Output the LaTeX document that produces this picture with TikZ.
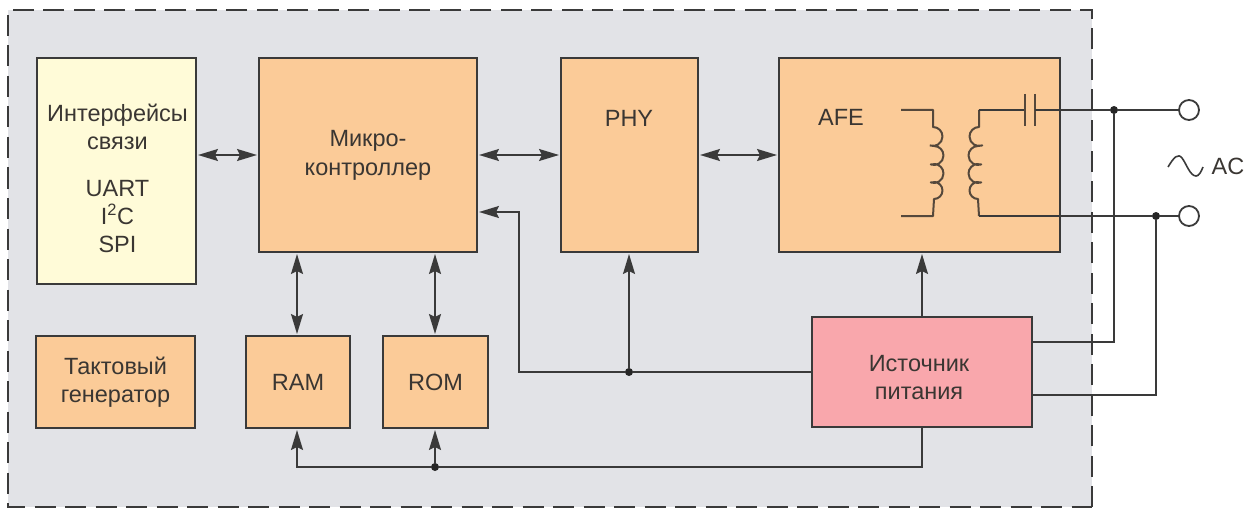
\documentclass[tikz,border=0pt]{standalone}
\usepackage{fontspec}
\setmainfont{Liberation Sans}
\usetikzlibrary{arrows.meta,calc}
\definecolor{bgc}{HTML}{E2E3E7}
\definecolor{org}{HTML}{FBCB98}
\definecolor{yel}{HTML}{FFFBD8}
\definecolor{pnk}{HTML}{F9A7AC}
\definecolor{ln}{HTML}{3A3A3A}
\definecolor{txt}{HTML}{3A3632}
\tikzset{
  x=1pt,y=-1pt,
  blockbox/.style={draw=ln,line width=2.2pt,inner sep=0pt,outer sep=0pt,anchor=north west,text=txt,font=\fontsize{23.5}{28}\selectfont,align=center},
  lbl/.style={text=txt,font=\fontsize{23.5}{28}\selectfont,align=center,inner sep=0pt},
  wire/.style={draw=ln,line width=1.8pt},
  wiretip/.style={wire,-{Stealth[length=20pt,width=12pt,inset=3pt]},shorten >=2pt},
  bothtip/.style={wire,{Stealth[length=20pt,width=12pt,inset=3pt]}-{Stealth[length=20pt,width=12pt,inset=3pt]},shorten >=2pt,shorten <=2pt},
  junction/.style={circle,fill=black!85,inner sep=0pt,minimum size=8pt},
  terminal/.style={circle,draw=ln,line width=1.8pt,fill=white,inner sep=0pt,minimum size=20pt,outer sep=0pt},
  coilline/.style={draw=ln!80!brown,line width=2pt,line join=round}
}
\begin{document}
\begin{tikzpicture}
\useasboundingbox (0,0) rectangle (1258,508);
% enclosure
\fill[bgc] (8,10) rectangle (1092,507);
\draw[ln,line width=2.2pt,dash pattern=on 21pt off 9.5pt] (1092,507) -- (1092,10) -- (8,10) -- (8,507) -- cycle;
% blocks
\node[blockbox,fill=yel,minimum width=159pt,minimum height=226pt] (iface) at (37,58) {};
\node[blockbox,fill=org,minimum width=218pt,minimum height=194pt] (mcu) at (259,58) {Микро-\\[1pt]контроллер};
\node[blockbox,fill=org,minimum width=137pt,minimum height=194pt] (phy) at (561,58) {};
\node[blockbox,fill=org,minimum width=281pt,minimum height=194pt] (afe) at (779,58) {};
\node[blockbox,fill=org,minimum width=159pt,minimum height=92pt] (clk) at (36,336) {Тактовый\\генератор};
\node[blockbox,fill=org,minimum width=104pt,minimum height=92pt] (ram) at (246,336) {RAM};
\node[blockbox,fill=org,minimum width=105pt,minimum height=92pt] (rom) at (383,336) {ROM};
\node[blockbox,fill=pnk,minimum width=220pt,minimum height=110pt] (psu) at (812,317) {};
% off-centre block labels
\node[lbl] (ifacetext) at (117.5,178) {Интерфейсы\\связи\\[19pt]UART\\I\textsuperscript{2}C\\SPI};
\node[lbl] (phytext) at (629,118) {PHY};
\node[lbl] (afetext) at (841,117) {AFE};
\node[lbl] (psutext) at (919,378) {Источник\\питания};
% coordinates
\coordinate (busy) at (0,155);
\coordinate (pwry) at (0,372);
\coordinate (mcuin) at (0,212);
% junctions and terminals
\node[junction] (jphy) at (629,372) {};
\node[junction] (jrom) at (435,467) {};
\node[junction] (jup) at (1114,110) {};
\node[junction] (jdn) at (1156,216) {};
\node[terminal] (tup) at (1189,110) {};
\node[terminal] (tdn) at (1189,216) {};
% bidirectional buses
\draw[bothtip] (iface.east |- busy) -- (mcu.west |- busy);
\draw[bothtip] (mcu.east |- busy) -- (phy.west |- busy);
\draw[bothtip] (phy.east |- busy) -- (afe.west |- busy);
\draw[bothtip] (297,252 |- mcu.south) -- (297,252 |- ram.north);
\draw[bothtip] (435,252 |- mcu.south) -- (435,252 |- rom.north);
% power
\draw[wire] (psu.west |- pwry) -- (jphy);
\draw[wiretip] (jphy) -- (519,372) -- (519 ,212) -- (mcu.east |- mcuin);
\draw[wiretip] (jphy) -- (jphy |- phy.south);
\draw[wiretip] (922,317) -- (922,252);
\draw[wire] (922,428) -- (922,467) -- (jrom);
\draw[wiretip] (jrom) -- (297,467) -- (297,428);
\draw[wiretip] (jrom) -- (435,428);
\draw[wire] (1032,342) -- (1114,342) -- (jup);
\draw[wire] (1032,395) -- (1156,395) -- (jdn);
% transformer
\draw[coilline] (901,110) -- (933,110) -- (933,127)
  arc[start angle=90,end angle=-110,radius=9.5pt] ++(0,0)
  .. controls (937,146) and (937,146) .. (934,146)
  arc[start angle=90,end angle=-110,radius=9.5pt]
  .. controls (937,164) and (937,164) .. (934,164)
  arc[start angle=90,end angle=-110,radius=9.5pt]
  .. controls (937,182) and (937,182) .. (934,182)
  arc[start angle=90,end angle=-90,radius=8.5pt]
  -- (933,216) -- (901,216);
\draw[coilline] (979,110) -- (979,127)
  arc[start angle=90,end angle=290,radius=9.5pt]
  .. controls (975,146) and (975,146) .. (978,146)
  arc[start angle=90,end angle=290,radius=9.5pt]
  .. controls (975,164) and (975,164) .. (978,164)
  arc[start angle=90,end angle=290,radius=9.5pt]
  .. controls (975,182) and (975,182) .. (978,182)
  arc[start angle=90,end angle=270,radius=8.5pt]
  -- (979,216);
% capacitor and line
\draw[wire] (979,110) -- (1025,110);
\draw[coilline] (1025,94) -- (1025,126);
\draw[coilline] (1035,94) -- (1035,126);
\draw[wire] (1035,110) -- (jup) -- (tup);
\draw[wire] (979,216) -- (jdn) -- (tdn);
% AC
\draw[ln,line width=1.6pt] (1168,167) .. controls (1174,157) and (1178,153) .. (1182,158) .. controls (1186,163) and (1190,176) .. (1196,176) .. controls (1199,176) and (1201,172) .. (1203,167);
\node[lbl] (actext) at (1228,166) {AC};
\end{tikzpicture}
\end{document}
